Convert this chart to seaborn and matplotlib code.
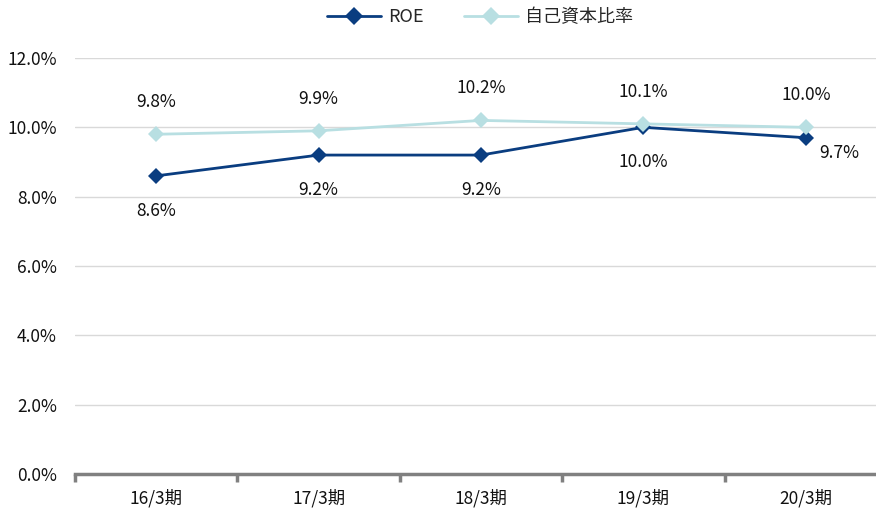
import matplotlib
matplotlib.use('Agg')
import matplotlib.pyplot as plt
import seaborn as sns
import pandas as pd
from matplotlib.ticker import FuncFormatter, FixedLocator

periods = ['16/3期', '17/3期', '18/3期', '19/3期', '20/3期']
roe = [8.6, 9.2, 9.2, 10.0, 9.7]
equity_ratio = [9.8, 9.9, 10.2, 10.1, 10.0]
series_names = ['ROE', '自己資本比率']

sns.set_style('white')
plt.rcParams['font.family'] = ['Noto Sans CJK JP', 'DejaVu Sans']

df = pd.DataFrame({
    'period': periods * 2,
    'x': list(range(len(periods))) * 2,
    'value': roe + equity_ratio,
    'series': [series_names[0]] * len(roe) + [series_names[1]] * len(equity_ratio),
})

dark = '#0A3D80'
light = '#B8DFE2'
txt = '#111111'

fig = plt.figure(figsize=(8.76, 5.13), dpi=100)
ax = fig.add_axes([75 / 876, 39 / 513, 812 / 876, 416 / 513])

sns.lineplot(data=df, x='x', y='value', hue='series', style='series',
             palette={series_names[0]: dark, series_names[1]: light},
             markers={series_names[0]: 'D', series_names[1]: 'D'},
             dashes=False, markersize=8, linewidth=2, markeredgewidth=0,
             ax=ax, legend=True)

# data labels
for i, v in enumerate(equity_ratio):
    ax.annotate(f'{v:.1f}%', (i, v), xytext=(0, 23), textcoords='offset points',
                ha='center', va='center', fontsize=12.5, color=txt)
for i, v in enumerate(roe):
    if i == len(roe) - 1:
        off = (24, -11)
    else:
        off = (0, -25)
    ax.annotate(f'{v:.1f}%', (i, v), xytext=off, textcoords='offset points',
                ha='center', va='center', fontsize=12.5, color=txt)

ax.set_ylim(0, 12)
ax.set_xlim(-0.5, len(periods) - 0.5)
ax.yaxis.set_major_locator(FixedLocator([0, 2, 4, 6, 8, 10, 12]))
ax.yaxis.set_major_formatter(FuncFormatter(lambda v, p: f'{v:.1f}%'))
ax.grid(axis='y', color='#D9D9D9', linewidth=1)
ax.set_axisbelow(True)

ax.set_xticks(range(len(periods)))
ax.set_xticklabels(periods)
ax.set_xticks([i - 0.5 for i in range(len(periods) + 1)], minor=True)
ax.tick_params(axis='x', which='major', bottom=True, length=0, pad=11, labelsize=12.5, labelcolor=txt)
ax.tick_params(axis='x', which='minor', bottom=True, length=6, width=2.5, color='#808080', direction='out')
ax.tick_params(axis='y', length=0, pad=13, labelsize=12.5, labelcolor=txt)

for s in ['top', 'right', 'left']:
    ax.spines[s].set_visible(False)
ax.spines['bottom'].set_color('#808080')
ax.spines['bottom'].set_linewidth(2.5)
ax.set_xlabel('')
ax.set_ylabel('')

ax.legend(loc='center', bbox_to_anchor=((480 - 75) / 812, 1 + 41 / 416),
          ncol=2, frameon=False, fontsize=13, handlelength=3, handletextpad=0.4,
          columnspacing=2.2, markerscale=1.1)

fig.savefig('out.png', dpi=100)
plt.close()
